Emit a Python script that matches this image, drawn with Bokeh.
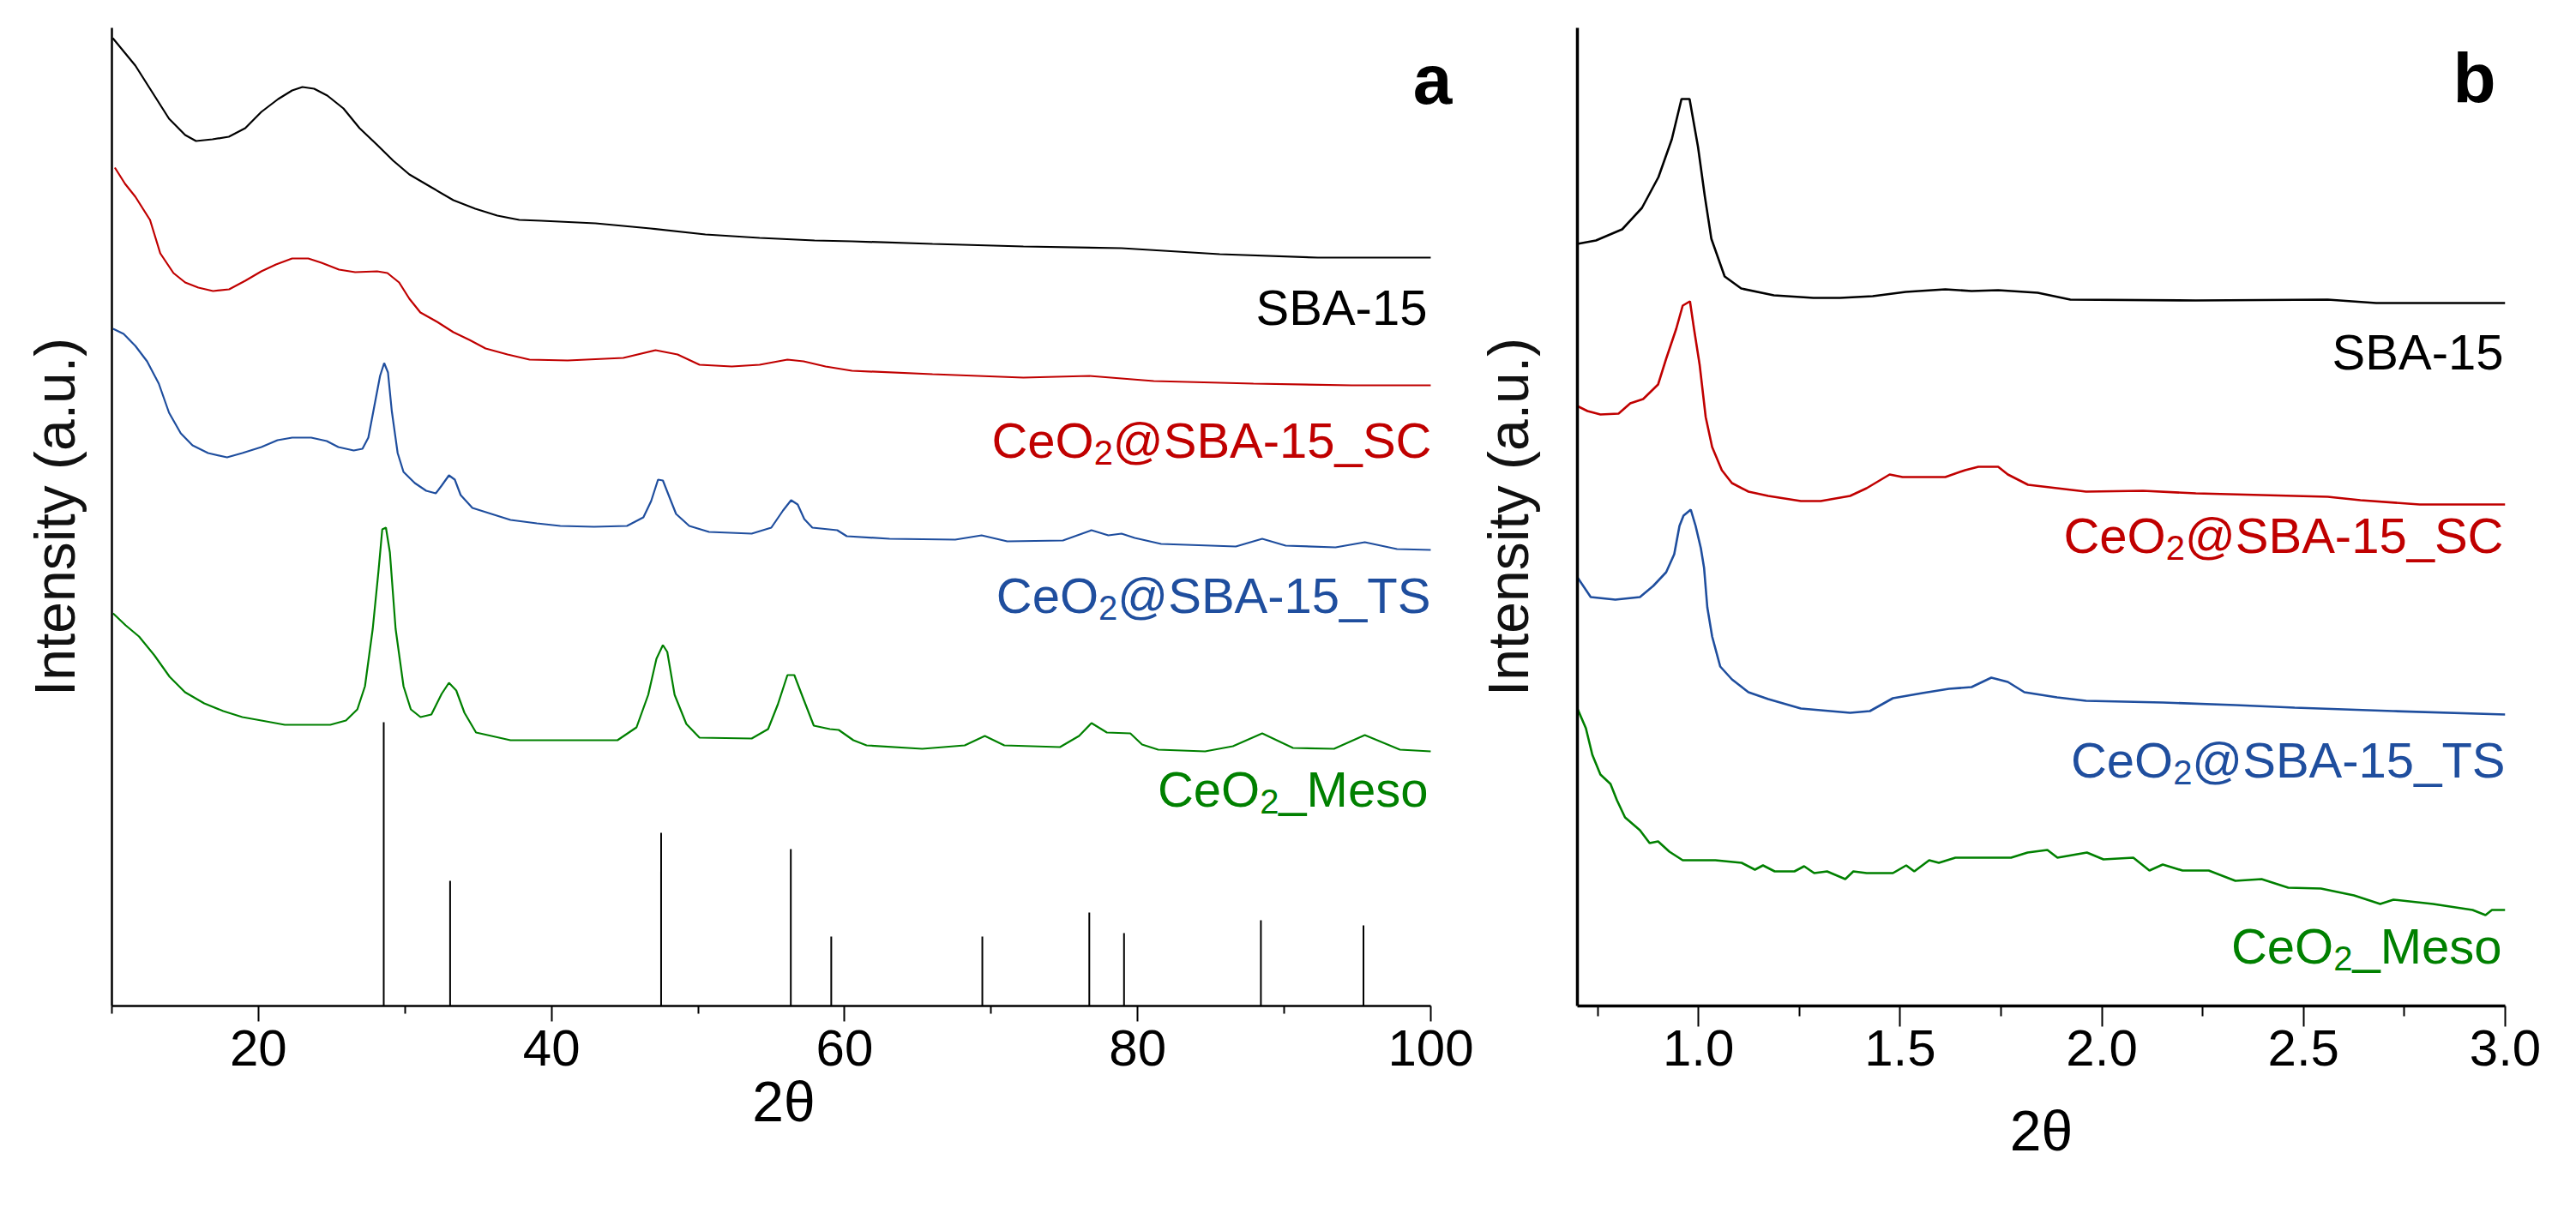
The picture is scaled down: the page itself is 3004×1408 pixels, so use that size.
from bokeh.plotting import figure
from bokeh.models import FixedTicker, Label, PrintfTickFormatter
from bokeh.layouts import row
from bokeh.core.properties import value
from bokeh.embed import file_html
from bokeh.resources import INLINE

FONT = "Liberation Sans"

# ---------------- data: panel a (wide angle) ----------------
SBA15_A = [(10.06, 1129), (11.6, 1097), (12.75, 1066), (13.9, 1035), (15.0, 1016), (15.74, 1009),
           (16.86, 1011), (17.98, 1014), (19.1, 1024), (20.2, 1043), (21.35, 1058), (22.3, 1068),
           (23.0, 1072), (23.8, 1070), (24.7, 1062), (25.8, 1047), (26.9, 1024), (28.07, 1005),
           (29.2, 986), (30.3, 970), (31.8, 955), (33.3, 940), (34.8, 930), (36.3, 922), (37.8, 917),
           (39.3, 916), (43.0, 913), (46.75, 907), (50.5, 900), (54.2, 896), (57.95, 893), (60.5, 892),
           (66.0, 889), (72.2, 886), (78.9, 884), (85.6, 877), (92.3, 873), (100, 873)]

SC_A = [(10.2, 978), (10.9, 959), (11.6, 944), (12.6, 917), (13.3, 878), (14.2, 855), (15.0, 844),
        (15.9, 838), (16.9, 834), (18.0, 836), (19.1, 846), (20.2, 857), (21.2, 865), (22.3, 872),
        (23.4, 872), (24.3, 867), (25.5, 859), (26.6, 856), (28.1, 857), (28.8, 855), (29.6, 844),
        (30.3, 825), (31.05, 809), (32.2, 798), (33.3, 786), (34.4, 777), (35.5, 767), (37.0, 760),
        (38.5, 754), (41.1, 753), (44.9, 756), (47.1, 765), (48.6, 760), (50.1, 748), (52.3, 746),
        (54.2, 748), (56.1, 754), (57.2, 752), (58.7, 746), (60.5, 741), (66.0, 737), (72.2, 733),
        (76.7, 735), (81.1, 729), (87.9, 726), (94.6, 724), (100, 724)]

TS_A = [(10.08, 790), (10.8, 784), (11.6, 770), (12.4, 752), (13.2, 726), (13.9, 692), (14.7, 668),
        (15.5, 654), (16.56, 645), (17.86, 640), (18.9, 645), (20.2, 652), (21.3, 660), (22.3, 663),
        (23.6, 663), (24.66, 659), (25.45, 652), (26.5, 648), (27.1, 650), (27.5, 663), (27.9, 699),
        (28.3, 735), (28.58, 750), (28.84, 739), (29.1, 694), (29.5, 645), (29.9, 623), (30.67, 610),
        (31.45, 601), (32.1, 598), (32.5, 607), (33.0, 619), (33.4, 614), (33.8, 596), (34.6, 581),
        (35.9, 574), (37.2, 567), (39.0, 563), (40.6, 560), (42.9, 559), (45.15, 560), (46.27, 570),
        (46.8, 589), (47.27, 614), (47.6, 613), (48.06, 593), (48.5, 574), (49.4, 560), (50.75, 553),
        (53.66, 551), (55.0, 558), (55.8, 578), (56.35, 590), (56.8, 585), (57.25, 568), (57.8, 558),
        (59.5, 555), (60.15, 548), (63.07, 545), (67.55, 544), (69.35, 549), (71.1, 542), (74.9, 543),
        (76.85, 555), (78.0, 549), (78.9, 551), (79.8, 546), (81.6, 539), (86.7, 536), (88.5, 545),
        (90.1, 537), (93.5, 535), (95.5, 541), (97.7, 533), (100, 532)]

MESO_A = [(10.08, 458), (10.94, 444), (11.85, 431), (12.9, 409), (13.94, 384), (14.99, 366), (16.3, 353),
          (17.6, 344), (18.9, 337), (20.2, 333), (21.8, 328), (24.9, 328), (25.97, 333), (26.75, 346),
          (27.27, 373), (27.8, 440), (28.19, 507), (28.45, 556), (28.7, 558), (28.97, 529), (29.36, 440),
          (29.9, 373), (30.4, 346), (31.06, 337), (31.8, 340), (32.5, 364), (33.0, 377), (33.5, 368),
          (34.06, 342), (34.85, 319), (35.9, 315), (37.2, 310), (39.8, 310), (42.9, 310), (44.5, 310),
          (45.8, 325), (46.6, 363), (47.16, 405), (47.6, 421), (47.9, 413), (48.4, 363), (49.2, 329),
          (50.1, 313), (53.66, 312), (54.78, 323), (55.45, 352), (56.1, 386), (56.57, 386), (57.24, 356),
          (57.9, 327), (59.0, 323), (59.6, 322), (60.6, 310), (61.5, 304), (65.3, 300), (68.2, 304),
          (69.57, 315), (70.9, 304), (74.7, 302), (76.0, 315), (76.85, 330), (77.9, 319), (79.5, 318),
          (80.3, 305), (81.4, 299), (84.6, 297), (86.5, 303), (88.5, 318), (90.6, 301), (93.4, 300),
          (95.5, 316), (97.9, 299), (100, 297)]

# CeO2 reference pattern (stick positions and heights)
STICK_X = [28.55, 33.08, 47.48, 56.33, 59.09, 69.40, 76.70, 79.07, 88.41, 95.41]
STICK_H = [331, 146, 202, 183, 81, 81, 109, 85, 100, 94]

# ---------------- data: panel b (low angle) ----------------
SBA15_B = [(0.70, 889), (0.746, 893), (0.811, 906), (0.860, 931), (0.901, 967), (0.934, 1011),
           (0.958, 1058), (0.978, 1058), (0.999, 1002), (1.016, 944), (1.032, 895), (1.065, 851),
           (1.106, 837), (1.187, 829), (1.285, 826), (1.351, 826), (1.432, 828), (1.514, 833),
           (1.612, 836), (1.677, 834), (1.743, 835), (1.841, 832), (1.922, 824), (2.233, 823),
           (2.56, 824), (2.68, 820), (3.0, 820)]

SC_B = [(0.699, 700), (0.725, 694), (0.757, 690), (0.802, 691), (0.831, 703), (0.863, 708), (0.9, 725),
        (0.92, 755), (0.945, 790), (0.961, 817), (0.979, 822), (0.989, 790), (1.003, 748), (1.018, 687),
        (1.034, 652), (1.058, 625), (1.083, 610), (1.124, 600), (1.173, 595), (1.254, 589), (1.303, 589),
        (1.376, 595), (1.417, 604), (1.474, 620), (1.506, 617), (1.612, 617), (1.661, 625), (1.694, 629),
        (1.743, 629), (1.767, 620), (1.817, 608), (1.889, 604), (1.961, 600), (2.102, 601), (2.233, 598),
        (2.56, 594), (2.641, 590), (2.788, 585), (3.0, 585)]

TS_B = [(0.70, 500), (0.733, 477), (0.794, 474), (0.855, 477), (0.888, 490), (0.92, 506), (0.94, 527),
        (0.953, 560), (0.963, 572), (0.981, 579), (0.993, 560), (1.006, 534), (1.014, 511), (1.022, 465),
        (1.034, 431), (1.054, 396), (1.083, 381), (1.124, 366), (1.173, 358), (1.254, 347), (1.376, 342),
        (1.425, 344), (1.482, 359), (1.555, 365), (1.621, 370), (1.677, 372), (1.726, 383), (1.767, 378),
        (1.808, 366), (1.889, 360), (1.961, 356), (2.151, 354), (2.331, 351), (2.478, 348), (2.722, 344),
        (3.0, 340)]

MESO_B = [(0.70, 347), (0.721, 324), (0.737, 293), (0.757, 270), (0.782, 259), (0.798, 240), (0.818, 220),
          (0.855, 205), (0.879, 190), (0.9, 192), (0.928, 180), (0.961, 170), (1.042, 170), (1.107, 167),
          (1.14, 159), (1.16, 164), (1.189, 157), (1.238, 157), (1.262, 163), (1.287, 155), (1.319, 157),
          (1.364, 148), (1.384, 157), (1.417, 155), (1.482, 155), (1.515, 164), (1.535, 157), (1.572, 170),
          (1.596, 167), (1.637, 173), (1.775, 173), (1.816, 179), (1.865, 182), (1.89, 173), (1.963, 179),
          (2.004, 171), (2.078, 173), (2.118, 158), (2.151, 165), (2.2, 158), (2.265, 158), (2.331, 146),
          (2.396, 148), (2.462, 138), (2.543, 137), (2.625, 129), (2.69, 119), (2.723, 124), (2.821, 119),
          (2.919, 112), (2.951, 106), (2.967, 112), (3.0, 112)]

# series labels: parts (text, is_subscript)
LBL_SBA = [("SBA-15", False)]
LBL_SC = [("CeO", False), ("2", True), ("@SBA-15_SC", False)]
LBL_TS = [("CeO", False), ("2", True), ("@SBA-15_TS", False)]
LBL_MESO = [("CeO", False), ("2", True), ("_Meso", False)]

COLORS = ["#000000", "#C00000", "#1F4E9E", "#008000"]

# Arial / Liberation Sans advance widths (per em)
CW = {"C": .722, "e": .556, "O": .778, "2": .556, "@": 1.015, "S": .667, "B": .667, "A": .667,
      "-": .333, "1": .556, "5": .556, "_": .556, "T": .611, "M": .833, "s": .5, "o": .556}

MAIN_SIZE = 58
SUB_SIZE = 40
SUB_DROP = 14
LIFT = 22  # compensates the renderer's baseline placement


def add_series_label(p, x, y, parts, color, xoff=0):
    cur = xoff
    for txt, sub in reversed(parts):
        size = SUB_SIZE if sub else MAIN_SIZE
        p.text(x=[x], y=[y + LIFT], text=[txt], x_offset=cur, y_offset=SUB_DROP if sub else 0,
               text_align="right", text_baseline="alphabetic", text_color=color,
               text_font=value(FONT), text_font_size=f"{size}px")
        cur -= sum(CW.get(c, .556) for c in txt) * size


def make_fig(xr, bounds, frame_w, left_b, right_b, ticks, minor, tick_out, minor_out,
             label_standoff, xlabel_standoff, ylabel_standoff, axis_w):
    p = figure(x_range=xr, y_range=(0, 1141), frame_width=frame_w, frame_height=1141,
               min_border_left=left_b, min_border_right=right_b, min_border_top=32,
               min_border_bottom=200, output_backend="svg", toolbar_location=None)
    p.outline_line_color = None
    p.grid.visible = False
    p.background_fill_color = "white"
    xa = p.xaxis[0]
    xa.bounds = bounds
    xa.ticker = FixedTicker(ticks=ticks, minor_ticks=minor)
    xa.axis_line_width = axis_w
    xa.axis_line_color = "black"
    xa.major_tick_line_width = 2
    xa.minor_tick_line_width = 2
    xa.major_tick_in = 0
    xa.minor_tick_in = 0
    xa.major_tick_out = tick_out
    xa.minor_tick_out = minor_out
    xa.major_label_standoff = label_standoff
    xa.major_label_text_font = FONT
    xa.major_label_text_font_size = "60px"
    xa.major_label_text_color = "black"
    xa.axis_label = "2θ"
    xa.axis_label_text_font = FONT
    xa.axis_label_text_font_size = "66px"
    xa.axis_label_text_font_style = "normal"
    xa.axis_label_text_color = "black"
    xa.axis_label_standoff = xlabel_standoff
    ya = p.yaxis[0]
    ya.ticker = FixedTicker(ticks=[])
    ya.major_tick_line_color = None
    ya.minor_tick_line_color = None
    ya.major_tick_out = 0
    ya.minor_tick_out = 0
    ya.major_label_standoff = 0
    ya.axis_line_width = axis_w
    ya.axis_line_color = "black"
    ya.axis_label = "Intensity (a.u.)"
    ya.axis_label_text_font = FONT
    ya.axis_label_text_font_size = "66px"
    ya.axis_label_text_font_style = "normal"
    ya.axis_label_text_color = "#111111"
    ya.axis_label_standoff = ylabel_standoff
    return p


def draw(p, pts, color, width):
    p.line([a for a, _ in pts], [b for _, b in pts], line_color=color, line_width=width)


# ---------------- panel a ----------------
# frame runs a little past 100 so the bold panel letter fits; axis line stops at 100
pa = make_fig((10, 101.7), (10, 100), 1567, 130, 21, [20, 40, 60, 80, 100], [10, 30, 50, 70, 90],
              18, 9, 10, 2, 30, 2.5)
for pts, c in zip([SBA15_A, SC_A, TS_A, MESO_A], COLORS):
    draw(pa, pts, c, 2.2)
pa.segment(x0=STICK_X, y0=[0] * len(STICK_X), x1=STICK_X, y1=STICK_H,
           line_color="black", line_width=2.0)
add_series_label(pa, 100, 793, LBL_SBA, COLORS[0], -4)
add_series_label(pa, 100, 638, LBL_SC, COLORS[1], 1)
add_series_label(pa, 100, 457, LBL_TS, COLORS[2], 0)
add_series_label(pa, 100, 231, LBL_MESO, COLORS[3], -3)
pa.add_layout(Label(x=100, y=1059 + LIFT, text="a", x_offset=25, text_align="right",
                    text_baseline="alphabetic", text_font=FONT, text_font_size="82px",
                    text_font_style="bold", text_color="black"))

# ---------------- panel b ----------------
pb = make_fig((0.7, 3.0), (0.7, 3.0), 1082, 120, 50, [1.0, 1.5, 2.0, 2.5, 3.0],
              [0.75, 1.25, 1.75, 2.25, 2.75], 24, 12, 4, 36, 44, 3.5)
pb.xaxis[0].formatter = PrintfTickFormatter(format="%.1f")
for pts, c in zip([SBA15_B, SC_B, TS_B, MESO_B], COLORS):
    draw(pb, pts, c, 2.6)
add_series_label(pb, 3.0, 741, LBL_SBA, COLORS[0], -2)
add_series_label(pb, 3.0, 527, LBL_SC, COLORS[1], -2)
add_series_label(pb, 3.0, 265, LBL_TS, COLORS[2], 0)
add_series_label(pb, 3.0, 48, LBL_MESO, COLORS[3], -4)
pb.add_layout(Label(x=3.0, y=1061 + LIFT, text="b", x_offset=-11, text_align="right",
                    text_baseline="alphabetic", text_font=FONT, text_font_size="82px",
                    text_font_style="bold", text_color="black"))

layout = row(pa, pb)
open("out.html", "w").write(file_html(layout, INLINE))
